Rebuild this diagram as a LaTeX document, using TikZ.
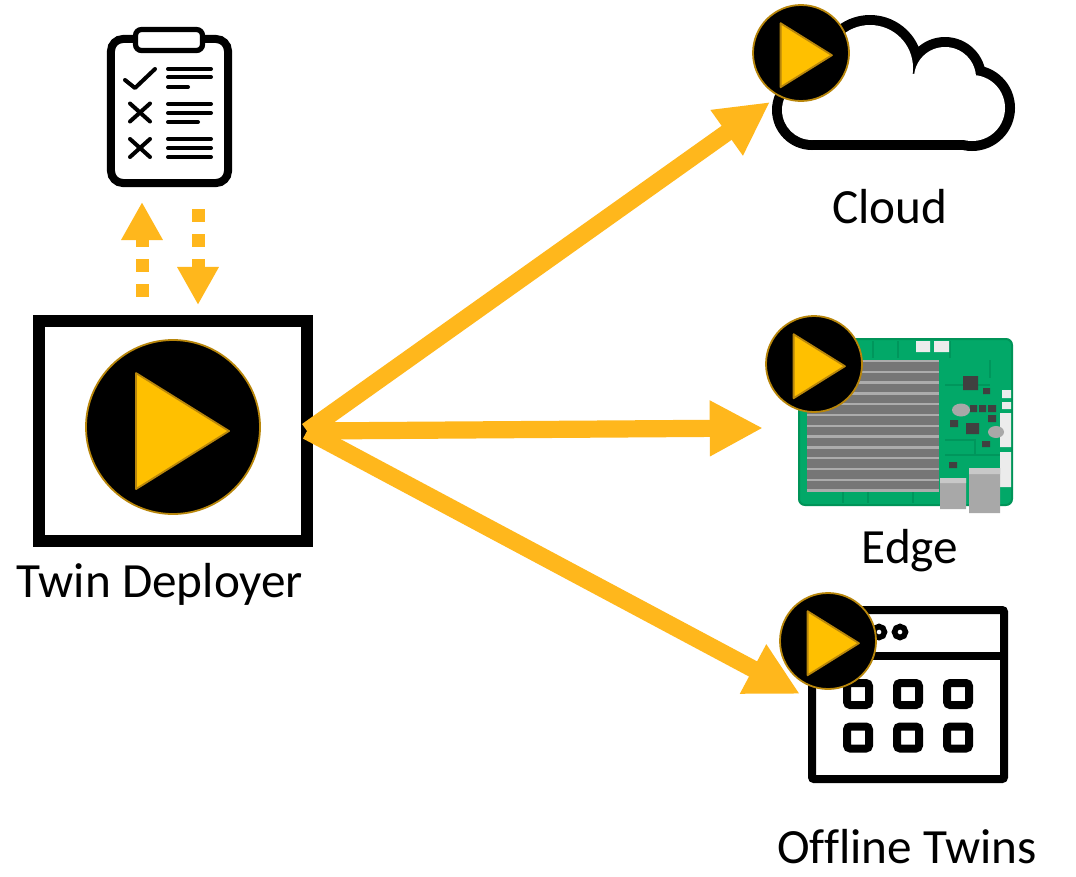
\documentclass[tikz,border=0pt]{standalone}
\usepackage{fontspec}
\setmainfont{Carlito}[Ligatures=CommonOff]
\usetikzlibrary{arrows.meta, positioning}

\definecolor{flow}{RGB}{255,183,28}
\definecolor{playfill}{RGB}{255,192,0}
\definecolor{playring}{RGB}{184,134,11}
\definecolor{boardgreen}{RGB}{2,168,104}
\definecolor{boardedge}{RGB}{0,148,88}
\definecolor{tracegreen}{RGB}{0,150,92}
\definecolor{sinkdark}{RGB}{118,118,118}
\definecolor{sinklight}{RGB}{172,172,172}
\definecolor{chip}{RGB}{64,64,64}
\definecolor{portgray}{RGB}{168,168,168}
\definecolor{porttop}{RGB}{200,200,200}
\definecolor{padwhite}{RGB}{236,236,236}

\tikzset{
  play/.pic={
    \filldraw[fill=black, draw=playring, line width=0.045cm] (0,0) circle (1);
    \filldraw[fill=playfill, draw=playring, line width=0.045cm, line join=round]
      (-0.425,-0.62) -- (0.644,0.046) -- (-0.425,0.713) -- cycle;
  },
  bigflow/.style={draw=flow, line width=0.43cm, -{Triangle[length=1.33cm,width=1.3cm]}},
  dashflow/.style={draw=flow, line width=0.325cm, dash pattern=on 0.325cm off 0.3cm,
    -{Triangle[length=0.95cm,width=0.975cm]}},
  sitetext/.style={font=\fontsize{35}{42}\selectfont, anchor=base, inner sep=0pt},
  iconline/.style={line width=0.1cm, line cap=round, line join=round},
}

\begin{document}
\begin{tikzpicture}[x=0.025cm, y=-0.025cm]
  \fill[white] (0,0) rectangle (1076,876);
  \useasboundingbox (0,0) rectangle (1076,876);

  % deployer box and checklist
  \node[draw, line width=0.3cm, minimum width=6.7cm, minimum height=5.5cm,
        inner sep=0pt, outer sep=0pt] (deployer) at (173,431) {};
  \pic[scale=87] at (173,427) {play};
  \node[sitetext] (deployname) at (160,597) {Twin Deployer};

  \node[draw, fill=white, line width=0.2cm, rounded corners=0.3cm, minimum width=2.925cm,
        minimum height=3.6cm, inner sep=0pt, outer sep=0pt] (checklist) at (169.5,111) {};
  \draw[fill=white, line width=0.13cm, rounded corners=0.15cm] (135.5,29.5) rectangle (202.5,50.5);
  \draw[iconline] (125,80) -- (135,88) -- (155,69);
  \foreach \my in {112.5,148} {
    \draw[iconline] (130,{\my-9}) -- (150,{\my+9});
    \draw[iconline] (130,{\my+9}) -- (150,{\my-9});
  }
  \foreach \ly/\lx in {69/211, 77/211, 87/188, 104/211, 113/211, 122/198, 139/211, 148/211, 157/211}
    \draw[iconline] (168,\ly) -- (\lx,\ly);

  \coordinate (upx) at (142,0);
  \coordinate (downx) at (198,0);
  \draw[dashflow, shorten <=0.6cm, shorten >=0.475cm] (deployer.north -| upx) -- (checklist.south -| upx);
  \draw[dashflow, shorten <=0.65cm, shorten >=0.4cm] (checklist.south -| downx) -- (deployer.north -| downx);

  % cloud: black lobes, white inside
  \fill (812,110) circle (40) (870,68) circle (53) (945,78) circle (41) (972,108) circle (43);
  \fill (812,100) rectangle (972,150);
  \fill[white] (812,110) circle (30) (870,68) circle (43) (945,78) circle (31) (972,108) circle (33);
  \fill[white] (812,100) rectangle (972,140);
  \fill[white] (812,110) -- (870,68) -- (945,78) -- (972,108) -- cycle;
  \pic[scale=48] at (801,53) {play};
  \node[sitetext] (cloudname) at (890,223) {Cloud};

  % edge board
  \filldraw[fill=boardgreen, draw=boardedge, line width=0.05cm, rounded corners=0.15cm]
    (799,339) rectangle (1012,505);
  \foreach \tx in {842,873,898,950} \draw[tracegreen, line width=0.03cm] (\tx,341) -- (\tx,358);
  \foreach \tx in {843,868,913} \draw[tracegreen, line width=0.03cm] (\tx,492) -- (\tx,503);
  \draw[tracegreen, line width=0.03cm] (945,385) -- (990,385) (945,440) -- (975,440) -- (975,455)
    (945,455) -- (1000,455) (990,360) -- (990,378);
  \fill[sinkdark] (807,360) rectangle (939,490);
  \foreach \k in {0,...,12}
    \draw[sinklight, line width=0.06cm] (807,{361+10.8*\k}) -- (939,{361+10.8*\k});
  \fill[padwhite] (916,341) rectangle (930,352) (934,341) rectangle (949,352);
  \fill[padwhite] (1002,390) rectangle (1011,398) (1002,402) rectangle (1011,409)
    (1000,413) rectangle (1011,447) (1000,452) rectangle (1011,487);
  \fill[chip] (963,376) rectangle (978,390) (966,423) rectangle (979,434)
    (970,405) rectangle (977,412) (979,405) rectangle (986,412) (988,405) rectangle (996,412)
    (988,415) rectangle (996,422) (950,420) rectangle (958,427) (983,388) rectangle (990,394)
    (982,441) rectangle (990,447) (949,462) rectangle (957,468);
  \fill[portgray] (961,410) ellipse [x radius=9, y radius=6.5];
  \fill[portgray] (996,432) ellipse [x radius=8, y radius=6];
  \fill[portgray] (940,478) rectangle (966,509) (969,468) rectangle (1000,513);
  \fill[porttop] (940,478) rectangle (966,483) (969,468) rectangle (1000,474);
  \pic[scale=48] at (814,364) {play};
  \node[sitetext] (edgename) at (910,563) {Edge};

  % offline twins window
  \draw[line width=0.2cm, rounded corners=0.05cm] (812,610) rectangle (1004,779);
  \draw[line width=0.2cm] (812,656) -- (1004,656);
  \draw[line width=0.14cm] (879,632) circle (5.5) (900,632) circle (5.5);
  \foreach \cx in {858,908,958}
    \foreach \cy in {694,737.5}
      \draw[line width=0.2cm, rounded corners=0.08cm] ({\cx-11},{\cy-11}) rectangle ({\cx+11},{\cy+11});
  \pic[scale=48] at (828,641) {play};
  \node[sitetext] (offlinename) at (907,863) {Offline Twins};

  % deployment arrows
  \coordinate (cloudtip) at (770,102);
  \coordinate (edgetip) at (763,428);
  \coordinate (offlinetip) at (800,694);
  \draw[bigflow] (deployer.east) -- (cloudtip);
  \draw[bigflow] (deployer.east) -- (edgetip);
  \draw[bigflow] (deployer.east) -- (offlinetip);
\end{tikzpicture}
\end{document}
